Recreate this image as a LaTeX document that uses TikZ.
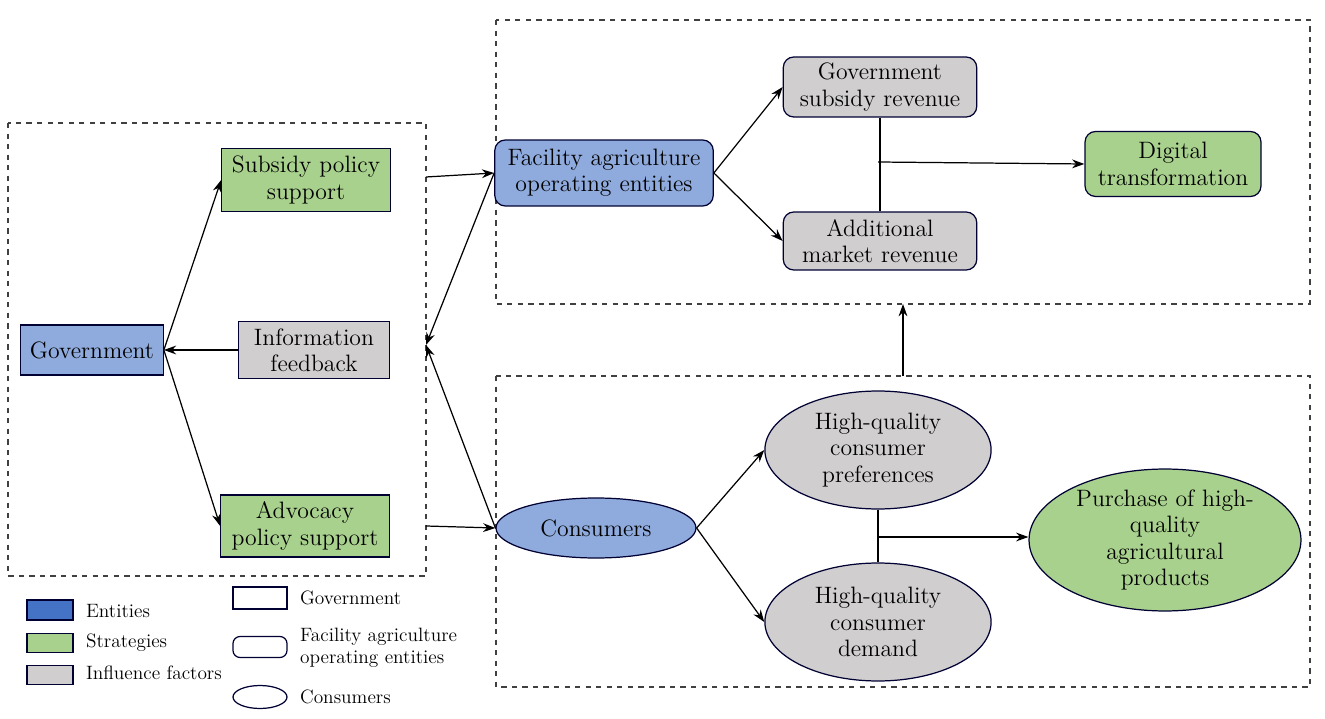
\documentclass[tikz,border=0pt]{standalone}
\usetikzlibrary{shapes.geometric,arrows.meta}
\begin{document}
\begin{tikzpicture}[x=0.02cm,y=-0.02cm,
  every node/.style={font=\fontsize{13.5}{15}\selectfont,align=center,inner sep=1pt},
  bd/.style={draw=black!80!blue,line width=0.7pt},
  ent/.style={bd,fill={rgb,255:red,143;green,170;blue,220}},
  str/.style={bd,fill={rgb,255:red,169;green,209;blue,142}},
  inf/.style={bd,fill={rgb,255:red,208;green,206;blue,206}},
  box/.style={draw=black!75,dashed,line width=0.7pt},
  arr/.style={-{Stealth[length=7pt,width=5pt]},line width=0.7pt},
  ln/.style={line width=0.7pt},
  lg/.style={font=\fontsize{11}{12.5}\selectfont,anchor=west,align=left}]
\useasboundingbox (0,0) rectangle (1325,719);
\draw[box] (8,123) rectangle (426,576);
\draw[box] (496,20) rectangle (1310,304);
\draw[box] (496,376) rectangle (1310,687);
\coordinate (LR1) at (426,177); \coordinate (LR2) at (426,345); \coordinate (LR3) at (426,526);
\coordinate (TB) at (903,304); \coordinate (BT) at (903,376);

\node[ent,text width=2.78cm,minimum height=1cm] (gov) at (92,350) {Government};
\node[str,text width=3.3cm,minimum height=1.26cm] (sub) at (306,180) {Subsidy policy\\support};
\node[inf,text width=2.95cm,minimum height=1.14cm] (info) at (314,350) {Information\\feedback};
\node[str,text width=3.3cm,minimum height=1.24cm] (adv) at (305,526) {Advocacy\\policy support};
\node[ent,rounded corners=6pt,text width=4.3cm,minimum height=1.32cm] (fac) at (604,173) {Facility agriculture\\operating entities};
\node[inf,rounded corners=6pt,text width=3.8cm,minimum height=1.2cm] (gsr) at (880,87) {Government\\subsidy revenue};
\node[inf,rounded corners=6pt,text width=3.8cm,minimum height=1.16cm] (amr) at (880,241) {Additional\\market revenue};
\node[str,rounded corners=6pt,text width=3.45cm,minimum height=1.3cm] (dig) at (1173,164) {Digital\\transformation};
\node[ent,ellipse,minimum width=4cm,minimum height=1.2cm,inner sep=0pt] (con) at (596,528) {Consumers};
\node[inf,ellipse,minimum width=4.48cm,minimum height=2.36cm,inner sep=0pt,text width=3.2cm] (pref) at (878,450) {High-quality\\consumer\\preferences};
\node[inf,ellipse,minimum width=4.48cm,minimum height=2.36cm,inner sep=0pt,text width=3.2cm] (dem) at (878,622) {High-quality\\consumer\\demand};
\node[str,ellipse,minimum width=5.44cm,minimum height=2.8cm,inner sep=0pt,text width=3.8cm] (pur) at (1165,540) {Purchase of high-\\quality\\agricultural\\products};

\draw[arr] (gov.east) -- (sub.west);
\draw[arr] (gov.east) -- (adv.west);
\draw[arr] (info.west) -- (gov.east);
\draw[arr] (LR1) -- (fac.west);
\draw[arr] (fac.west) -- (LR2);
\draw[arr] (con.west) -- (LR2);
\draw[arr] (LR3) -- (con.west);
\draw[arr] (fac.east) -- (gsr.west);
\draw[arr] (fac.east) -- (amr.west);
\draw[ln] (gsr.south) -- (amr.north);
\coordinate (m1) at (878,162);
\draw[arr] (m1) -- (dig.west);
\draw[arr] (BT) -- (TB);
\draw[arr] (con.east) -- (pref.west);
\draw[arr] (con.east) -- (dem.west);
\draw[ln] (pref.south) -- (dem.north);
\coordinate (m2) at (878,537);
\draw[arr] (m2) -- (m2 -| pur.west);

% legend
\node[bd,fill={rgb,255:red,68;green,114;blue,196},minimum width=0.92cm,minimum height=0.4cm,inner sep=0pt] (l1) at (50,610) {};
\node[str,minimum width=0.92cm,minimum height=0.38cm,inner sep=0pt] (l2) at (50,643) {};
\node[inf,minimum width=0.92cm,minimum height=0.38cm,inner sep=0pt] (l3) at (50,675) {};
\node[lg] (t1) at (84,611) {Entities};
\node[lg] (t2) at (84,643) {Strategies};
\node[lg] (t3) at (84,673) {Influence factors};
\node[bd,minimum width=1.08cm,minimum height=0.44cm,inner sep=0pt] (l4) at (260,598) {};
\node[bd,rounded corners=4pt,minimum width=1.08cm,minimum height=0.42cm,inner sep=0pt] (l5) at (260,647) {};
\node[bd,ellipse,minimum width=1.08cm,minimum height=0.46cm,inner sep=0pt] (l6) at (260,697) {};
\node[lg] (t4) at (298,598) {Government};
\node[lg] (t5) at (298,648) {Facility agriculture\\operating entities};
\node[lg] (t6) at (298,697) {Consumers};
\end{tikzpicture}
\end{document}
